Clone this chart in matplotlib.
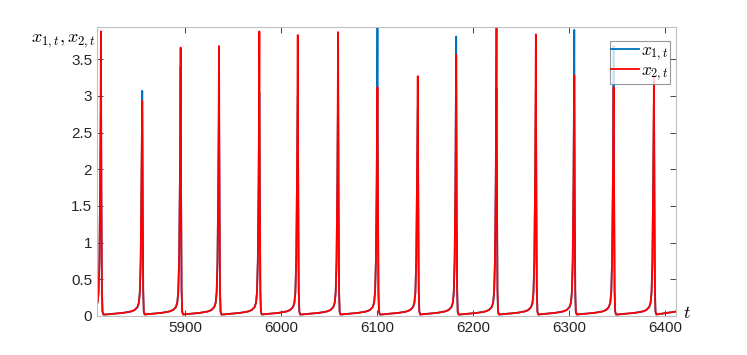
import numpy as np
import matplotlib.pyplot as plt

plt.rcParams['mathtext.fontset'] = 'cm'
plt.rcParams['font.family'] = ['Liberation Sans', 'DejaVu Sans']

# spike times and peak heights
peak_t = [5812, 5855, 5895, 5935, 5977, 6017, 6059, 6100, 6142, 6182, 6224, 6265, 6305, 6346, 6388]
x1_peak = [2.90, 3.07, 3.40, 2.90, 3.05, 3.00, 3.10, 3.94, 2.85, 3.81, 3.10, 3.05, 3.90, 3.68, 2.97]
x2_peak = [3.88, 2.93, 3.66, 3.68, 3.88, 3.83, 3.87, 3.12, 3.27, 3.56, 3.94, 3.84, 3.28, 3.12, 3.26]

# shape of one cycle around a spike (time offset from peak, value)
rise_dt = [-38, -30, -20, -12, -8, -5, -3.5, -2.5, -1.6, -0.8]
rise_v = [0.02, 0.03, 0.042, 0.06, 0.08, 0.12, 0.18, 0.32, 0.75, 1.8]
fall_dt = [0.5, 1.0, 1.6, 2.5]
fall_v = [1.6, 0.35, 0.06, 0.02]

t_start, t_end = 5808, 6411
tail_v = 0.06


def series(peaks):
    ts, vs = [], []
    for p, h in zip(peak_t, peaks):
        for d, v in zip(rise_dt, rise_v):
            if p + d >= t_start and (not ts or p + d > ts[-1]):
                ts.append(p + d)
                vs.append(v)
        ts.append(p)
        vs.append(h)
        for d, v in zip(fall_dt, fall_v):
            ts.append(p + d)
            vs.append(min(v, h))
    ts.append(t_end)
    vs.append(tail_v)
    t0 = t_start
    v0 = np.interp(t0, ts, vs)
    return [t0] + ts, [v0] + vs


fig = plt.figure(figsize=(7.47, 3.55), dpi=100)
ax = fig.add_axes([0.130, 0.110, 0.775, 0.814])

t1, v1 = series(x1_peak)
t2, v2 = series(x2_peak)
ax.plot(t1, v1, color='#0072BD', lw=1.3, label='$x_{1,t}$')
ax.plot(t2, v2, color='#FF0000', lw=1.3, label='$x_{2,t}$')

ax.set_xlim(t_start, t_end)
ax.set_ylim(0, 3.94)
ax.set_xticks([5900, 6000, 6100, 6200, 6300, 6400])
ax.set_yticks([0, 0.5, 1, 1.5, 2, 2.5, 3, 3.5])
ax.set_yticklabels(['0', '0.5', '1', '1.5', '2', '2.5', '3', '3.5'])
ax.tick_params(direction='in', length=4, width=0.6, color='#262626',
               labelsize=11, labelcolor='#262626', top=True, right=True)
for s in ax.spines.values():
    s.set_color('#bfbfbf')
    s.set_linewidth(0.8)

fig.text(0.085, 0.885, '$x_{1,t}, x_{2,t}$', fontsize=13, ha='center', va='center')
fig.text(0.92, 0.118, '$t$', fontsize=13, ha='center', va='center')

leg = ax.legend(loc='upper right', bbox_to_anchor=(0.99, 0.95), fontsize=12.5,
                fancybox=False, edgecolor='#7f7f7f', handlelength=1.6,
                handletextpad=0.1, borderpad=0.1, labelspacing=0.0, borderaxespad=0)
leg.get_frame().set_linewidth(0.8)

fig.savefig('out.png', dpi=100)
